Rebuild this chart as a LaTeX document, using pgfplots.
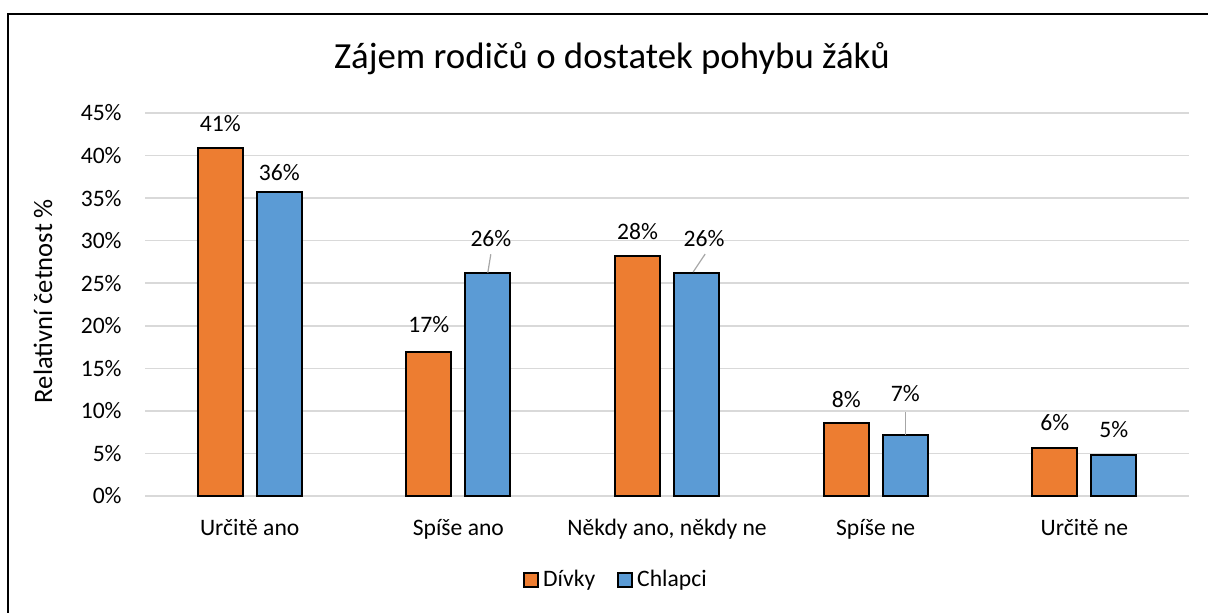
\documentclass[border=0pt]{standalone}
\usepackage{pgfplots}
\pgfplotsset{compat=1.18}
\usepackage{fontspec}
\setmainfont{Carlito}
\definecolor{cOr}{HTML}{ED7D31}
\definecolor{cBl}{HTML}{5B9BD5}
\definecolor{cGrid}{HTML}{D9D9D9}
\definecolor{cLead}{HTML}{A6A6A6}
\newcommand\lbl{\fontsize{11.8}{14}\selectfont}
\pgfplotsset{sqlegend/.style={legend image code/.code={\draw[##1, line width=1pt] (0pt,-3.5pt) rectangle (7pt,3.5pt);}}}
\begin{document}
\begin{tikzpicture}
\useasboundingbox (0,0) rectangle (604pt,306pt);
\draw[line width=1pt] (4pt,-10pt) rectangle (615pt,299pt);
\node[anchor=base, font=\fontsize{18.4}{22}\selectfont] at (306pt,271.8pt) {Zájem rodičů o dostatek pohybu žáků};
\begin{axis}[
  at={(72.7pt,58pt)}, anchor=south west,
  width=521.65pt, height=191.5pt, scale only axis,
  xmin=-0.5, xmax=4.5, ymin=0, ymax=45,
  clip=false,
  axis line style={draw=none},
  ymajorgrids, grid style={cGrid, line width=0.75pt},
  major tick length=0pt,
  ytick={0,5,10,15,20,25,30,35,40,45},
  yticklabels={0\%,5\%,10\%,15\%,20\%,25\%,30\%,35\%,40\%,45\%},
  xtick={0,1,2,3,4},
  xticklabels={Určitě ano,Spíše ano,{Někdy ano, někdy ne},Spíše ne,Určitě ne},
  yticklabel style={font=\lbl, anchor=east, inner sep=0pt, xshift=-11.7pt},
  xticklabel style={font=\lbl, anchor=base, inner sep=0pt, yshift=-19.5pt},
  ylabel={Relativní četnost \%},
  ylabel style={font=\fontsize{13.3}{16}\selectfont, at={(rel axis cs:-0.0981,0.509)}, anchor=center},
  legend style={at={(0.452,-0.2193)}, anchor=center, draw=none, fill=none,
    legend columns=2, font=\lbl,
    /tikz/every even column/.append style={column sep=9pt}},
]
\addplot[ybar, bar width=22.5pt, bar shift=-14.75pt, fill=cOr, draw=black, line width=1pt, sqlegend]
  coordinates {(0,40.85) (1,16.92) (2,28.15) (3,8.54) (4,5.6)};
\addlegendentry{Dívky}
\addplot[ybar, bar width=22.5pt, bar shift=14.75pt, fill=cBl, draw=black, line width=1pt, sqlegend]
  coordinates {(0,35.75) (1,26.24) (2,26.24) (3,7.17) (4,4.82)};
\addlegendentry{Chlapci}
% leader lines
\addplot[cLead, line width=0.6pt, forget plot, no markers] coordinates {(1.1410,26.24) (1.1553,28.40)};
\addplot[cLead, line width=0.6pt, forget plot, no markers] coordinates {(2.1251,26.32) (2.1827,28.43)};
\addplot[cLead, line width=0.6pt, forget plot, no markers] coordinates {(3.1414,7.17) (3.1414,9.87)};
% data labels
\addplot[draw=none, no markers, forget plot, nodes near coords, point meta=explicit symbolic,
  every node near coord/.append style={anchor=center, font=\lbl}]
  coordinates {(-0.1414,43.77)[41\%] (0.8586,20.1)[17\%] (1.8586,31.1)[28\%] (2.8586,11.28)[8\%] (3.8586,8.64)[6\%]};
\addplot[draw=none, no markers, forget plot, nodes near coords, point meta=explicit symbolic,
  every node near coord/.append style={anchor=center, font=\lbl}]
  coordinates {(0.1414,38.0)[36\%] (1.1558,30.3)[26\%] (2.1774,30.3)[26\%] (3.1414,11.99)[7\%] (4.1414,7.76)[5\%]};
\end{axis}
\end{tikzpicture}
\end{document}
